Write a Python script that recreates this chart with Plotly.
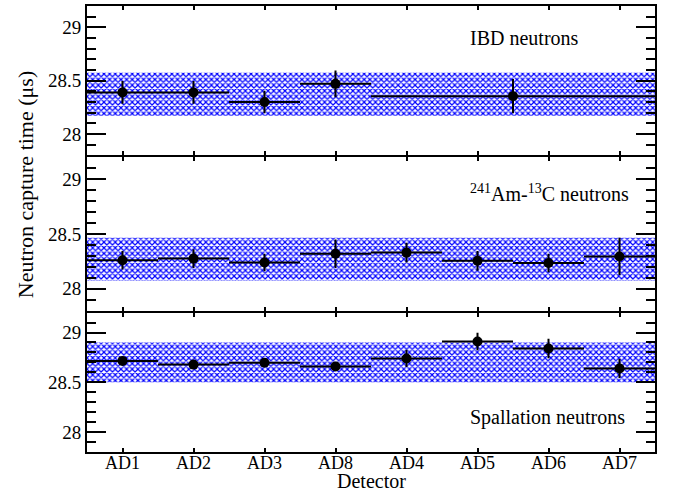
import plotly.graph_objects as go

detectors = ["AD1", "AD2", "AD3", "AD8", "AD4", "AD5", "AD6", "AD7"]
det_index = list(range(len(detectors)))

# IBD neutrons (EH3 combined: AD4-AD7)
ibd_x = [0, 1, 2, 3, 5.5]
ibd_xerr = [0.5, 0.5, 0.5, 0.5, 2.0]
ibd_y = [28.39, 28.39, 28.30, 28.47, 28.355]
ibd_yerr = [0.106, 0.106, 0.105, 0.125, 0.16]
ibd_band = [28.17, 28.575]

# 241Am-13C neutrons
amc_y = [28.26, 28.275, 28.24, 28.32, 28.33, 28.255, 28.235, 28.295]
amc_yerr = [0.085, 0.085, 0.08, 0.13, 0.09, 0.09, 0.085, 0.17]
amc_band = [28.075, 28.465]

# Spallation neutrons
spa_y = [28.715, 28.678, 28.697, 28.66, 28.74, 28.91, 28.84, 28.64]
spa_yerr = [0.03, 0.03, 0.03, 0.03, 0.087, 0.087, 0.097, 0.097]
spa_band = [28.50, 28.90]

yticks = [28, 28.5, 29]
ytick_text = ["28", "28.5", "29"]

FONT = "Liberation Serif, 'Times New Roman', Times, serif"
fig = go.Figure()

panels = [
    ("x3", "y3", ibd_x, ibd_xerr, ibd_y, ibd_yerr, ibd_band),
    ("x2", "y2", det_index, [0.5] * 8, amc_y, amc_yerr, amc_band),
    ("x", "y", det_index, [0.5] * 8, spa_y, spa_yerr, spa_band),
]

for xa, ya, xs, xe, ys, ye, band in panels:
    fig.add_trace(go.Bar(
        x=[3.5], y=[band[1] - band[0]], base=[band[0]], width=[8],
        xaxis=xa, yaxis=ya, showlegend=False, hoverinfo="skip",
        marker=dict(color="white", line=dict(width=0),
                    pattern=dict(shape="x", fgcolor="#0000ff", bgcolor="white",
                                 size=4, solidity=0.5, fillmode="replace")),
    ))
    fig.add_trace(go.Scatter(
        x=xs, y=ys, mode="markers", xaxis=xa, yaxis=ya, showlegend=False,
        marker=dict(color="black", size=10),
        error_x=dict(type="data", array=xe, width=0, thickness=2, color="black"),
        error_y=dict(type="data", array=ye, width=0, thickness=2, color="black"),
    ))

H_PLOT = 448.0
d1 = 140 / H_PLOT            # bottom panel top
d1b = 142 / H_PLOT           # middle panel bottom (2px overlap so lines coincide)
d2 = 296 / H_PLOT            # middle panel top
d2b = 298 / H_PLOT           # top panel bottom

xcommon = dict(range=[-0.5, 7.5], tickmode="array", tickvals=det_index,
               ticktext=detectors, ticks="inside", ticklen=4, tickwidth=2,
               tickcolor="black", showline=True, linewidth=2, linecolor="black",
               mirror="allticks", showgrid=False, zeroline=False,
               tickfont=dict(family=FONT, size=18, color="black"))
ycommon = dict(range=[27.8, 29.2], tickmode="array", tickvals=yticks,
               ticktext=ytick_text, ticks="inside", ticklen=19, tickwidth=2,
               tickcolor="black", showline=True, linewidth=2, linecolor="black",
               mirror="allticks", showgrid=False, zeroline=False,
               minor=dict(dtick=0.1, tick0=28, ticks="inside", ticklen=9,
                          tickwidth=2, tickcolor="black", showgrid=False),
               tickfont=dict(family=FONT, size=19, color="black"))

fig.update_layout(
    width=681, height=496,
    margin=dict(l=87, r=26, t=4, b=44),
    paper_bgcolor="white", plot_bgcolor="white",
    barmode="overlay",
    xaxis=dict(xcommon, anchor="y", domain=[0, 1], ticklabelstandoff=-7),
    xaxis2=dict(xcommon, anchor="y2", domain=[0, 1], matches="x", showticklabels=False),
    xaxis3=dict(xcommon, anchor="y3", domain=[0, 1], matches="x", showticklabels=False),
    yaxis=dict(ycommon, anchor="x", domain=[0, d1]),
    yaxis2=dict(ycommon, anchor="x2", domain=[d1b, d2]),
    yaxis3=dict(ycommon, anchor="x3", domain=[d2b, 1]),
    font=dict(family=FONT, color="black"),
)

def px_x(p):
    return (p - 87) / 568.0

def px_y(p):
    return (452 - p) / H_PLOT

ann_font = dict(family=FONT, size=20, color="black")
fig.add_annotation(text="IBD neutrons", xref="paper", yref="paper",
                   x=px_x(468), y=px_y(36), xanchor="left", yanchor="middle",
                   showarrow=False, font=ann_font)
fig.add_annotation(text="<sup>241</sup>Am-<sup>13</sup>C neutrons", xref="paper", yref="paper",
                   x=px_x(468), y=px_y(192), xanchor="left", yanchor="middle",
                   showarrow=False, font=ann_font)
fig.add_annotation(text="Spallation neutrons", xref="paper", yref="paper",
                   x=px_x(468), y=px_y(417), xanchor="left", yanchor="middle",
                   showarrow=False, font=ann_font)
fig.add_annotation(text="Neutron capture time (μs)", xref="paper", yref="paper",
                   x=px_x(25), y=px_y(184), xanchor="center", yanchor="middle",
                   textangle=-90, showarrow=False,
                   font=dict(family=FONT, size=22, color="black"))
fig.add_annotation(text="Detector", xref="paper", yref="paper",
                   x=px_x(371), y=px_y(481), xanchor="center", yanchor="middle",
                   showarrow=False, font=dict(family=FONT, size=20, color="black"))

fig.write_html("out.html", config={"displayModeBar": False},
               post_script="document.body.style.margin='0px';")
